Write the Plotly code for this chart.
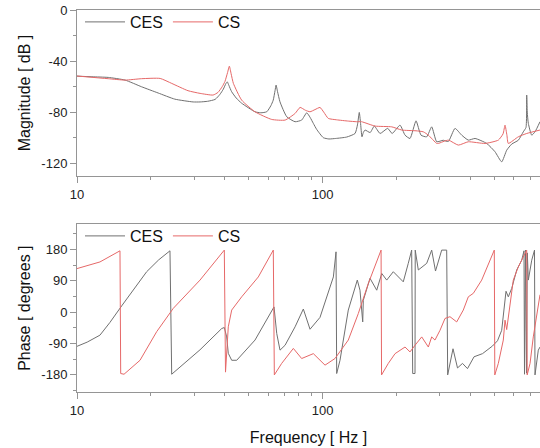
import plotly.graph_objects as go

# ---------------- data ----------------
ces_mag_f = [10.0, 11.5, 13.4, 15.7, 18.3, 21.4, 25.0, 29.7, 31.7, 34.0, 36.5, 38.2, 39.4, 40.4, 40.9,
             41.5, 42.6, 44.5, 46.8, 53.0, 56.0, 59.2, 61.5, 62.9, 64.0, 64.6, 65.5, 67.0, 71.4, 77.2,
             82.1, 86.1, 88.8, 91.6, 94.5, 100.6, 106.0, 113.0, 125.2, 135.4, 138.5, 140.9, 142.5,
             144.5, 146.3, 148.7, 156.0, 162.2, 171.2, 183.9, 191.7, 206.4, 216.3, 226.6, 239.8,
             251.2, 265.0, 277.7, 291.1, 309.6, 324.5, 345.5, 367.9, 391.4, 416.8, 465.0, 502.6,
             535.2, 560.9, 587.8, 625.3, 655.3, 672.0, 676.5, 680.0, 686.9, 709.1, 731.3, 766.3]
ces_mag_db = [-51.8, -52.3, -52.8, -54.9, -60.1, -65.0, -69.8, -72.0, -72.0, -71.5, -70.0, -66.0, -62.0, -57.5, -56.3,
              -59.0, -64.0, -69.0, -73.0, -79.7, -80.5, -79.7, -75.0, -70.6, -63.0, -58.8, -64.0, -71.9, -83.6, -87.5,
              -86.2, -80.5, -84.0, -88.8, -93.5, -100.0, -101.0, -100.6, -99.5, -96.7, -90.0, -80.2, -88.0,
              -99.3, -96.0, -94.0, -96.0, -90.9, -96.7, -92.7, -96.7, -90.2, -98.0, -100.6, -86.8,
              -98.0, -99.3, -91.5, -103.2, -102.0, -103.0, -92.7, -98.0, -101.9, -100.6, -104.5, -111.0,
              -118.9, -109.8, -105.0, -102.0, -95.4, -92.0, -66.6, -80.0, -88.8, -98.0, -95.4, -87.5]

cs_mag_f = [10.0, 13.4, 15.7, 18.3, 21.8, 24.3, 28.3, 31.7, 35.8, 37.5, 39.0, 40.0, 41.0, 41.7, 42.4,
            43.3, 46.8, 53.0, 62.0, 70.3, 77.2, 80.9, 85.0, 88.8, 93.0, 97.5, 101.0, 105.4, 114.0,
            127.1, 137.5, 144.0, 163.3, 190.9, 209.7, 239.8, 256.7, 269.1, 291.1, 295.5, 324.5,
            356.4, 391.4, 457.6, 518.5, 542.0, 552.1, 562.0, 569.4, 625.3, 676.5, 766.3]
cs_mag_db = [-51.7, -53.8, -54.9, -53.8, -53.6, -57.5, -63.2, -65.3, -66.6, -64.5, -60.0, -56.0, -49.0, -44.0, -50.0,
             -57.5, -70.6, -79.7, -85.7, -86.2, -81.0, -76.3, -78.5, -79.7, -78.0, -76.3, -80.0, -84.9, -86.0,
             -87.0, -87.5, -87.5, -90.9, -91.5, -94.0, -94.6, -95.4, -98.0, -104.5, -104.5, -101.9,
             -105.8, -103.2, -104.5, -101.9, -97.0, -90.2, -98.0, -104.5, -99.3, -96.7, -94.0]

ces_ph_f = [10.0, 11.0, 12.40, 13.6, 15.20, 16.9, 19.21, 21.5, 23.90, 24.29, 31.67, 38.81, 39.77, 40.67, 41.28,
            42.62, 44.67, 53.03, 63.37, 65.0, 67.02, 70.27, 77.20, 83.4, 88.8, 97.5, 110.5, 113.3,
            114.0, 117.6, 127.1, 138.3, 141.8, 145.5, 146.3, 155.8, 165.9, 173.9, 182.2, 193.8,
            212.8, 223.0, 230.2, 232.4, 237.5, 238.0, 245.0, 265.0, 277.7, 287.8, 305.0, 319.6,
            322.6, 339.1, 353.7, 370.7, 388.4, 412.9, 447.1, 491.1, 514.6, 535.2, 547.0, 557.2,
            569.4, 587.8, 616.1, 645.6, 659.6, 662.7, 669.0, 675.3, 680.3, 686.9, 709.1, 719.6,
            727.8, 731.3, 754.2, 766.3]
ces_ph_deg = [-98, -86, -66, -30, 18, 62, 116, 150, 176, -178, -108, -47, -44, -71, -118,
              -138, -138, -80, 15, -61, -109, -95, -42, 9, -49, -15, 101, 173,
              -176, -138, 6, 92, 63, -28, 34, 97, 63, 111, 92, 116,
              87, 140, 178, -176, -176, 178, 121, 140, 178, 118, 178, 178,
              -180, -105, -160, -147, -162, -128, -119, -97, -82, -52, 20, 60,
              44, 68, 121, 149, 176, -178, 178, -175, 170, 92, 149, 168,
              178, -180, -109, -100]

cs_ph_f = [10.0, 12.40, 14.96, 15.06, 15.54, 18.05, 21.10, 24.66, 31.67, 39.66, 39.77, 40.22, 40.60,
           41.28, 42.62, 46.81, 54.69, 62.94, 63.55, 68.08, 75.95, 82.1, 91.6, 102.2, 112.2, 127.1,
           139.6, 153.3, 172.8, 173.6, 184.9, 197.0, 216.3, 226.6, 237.5, 252.9, 269.1, 277.7,
           286.4, 300.2, 314.6, 329.6, 351.1, 373.4, 391.4, 410.2, 443.7, 472.1, 499.3, 501.7,
           518.5, 543.3, 552.1, 560.9, 578.5, 596.7, 625.3, 655.3, 676.5, 679.7, 698.0, 719.6,
           741.6, 766.3]
cs_ph_deg = [125, 144, 176, -176, -178, -138, -56, 11, 92, 176, 178, -172, -120,
             -42, 6, 44, 101, 178, -180, -147, -104, -133, -119, -152, -133, -80,
             -4, 82, 178, -180, -147, -119, -100, -114, -95, -71, -100, -71,
             -80, -52, -18, -13, -28, 6, 44, 54, 92, 140, 178, -180,
             -147, -80, -23, -50, 15, 92, 130, 159, 178, -180, -147, -71,
             -10, 50]

mag_ticks = [-120, -80, -40, 0]
mag_ticktext = ["-120", "-80", "-40", "0"]
mag_minor = [-100, -60, -20]
ph_ticks = [-180, -90, 0, 90, 180]
ph_ticktext = ["-180", "-90", "0", "90", "180"]
ph_minor = [-225, -135, -45, 45, 135, 225]
f_ticks = [10, 100]
f_ticktext = ["10", "100"]
f_minor = [20, 30, 40, 50, 60, 70, 80, 90, 200, 300, 400, 500, 600, 700]

# ---------------- styles ----------------
CES_COLOR = "#707070"
CS_COLOR = "#e66868"
AXIS_COLOR = "#959595"
FONT = "Arial, Liberation Sans, sans-serif"

fig = go.Figure()
fig.add_trace(go.Scatter(x=ces_mag_f, y=ces_mag_db, mode="lines", name="CES",
                         line=dict(color=CES_COLOR, width=1, shape="spline", smoothing=0.5),
                         xaxis="x", yaxis="y", legend="legend"))
fig.add_trace(go.Scatter(x=cs_mag_f, y=cs_mag_db, mode="lines", name="CS",
                         line=dict(color=CS_COLOR, width=1, shape="spline", smoothing=0.5),
                         xaxis="x", yaxis="y", legend="legend"))
fig.add_trace(go.Scatter(x=ces_ph_f, y=ces_ph_deg, mode="lines", name="CES",
                         line=dict(color=CES_COLOR, width=1),
                         xaxis="x2", yaxis="y2", legend="legend2"))
fig.add_trace(go.Scatter(x=cs_ph_f, y=cs_ph_deg, mode="lines", name="CS",
                         line=dict(color=CS_COLOR, width=1),
                         xaxis="x2", yaxis="y2", legend="legend2"))

W, H = 540, 448
L, T, B = 77, 10, 56
area_h = H - T - B           # 382
top_dom = [(H - B - 176) / area_h, 1.0]
bot_dom = [0.0, (H - B - 224.3) / area_h]

common_x = dict(type="log", range=[1.0, 2.8844], showline=True, linecolor=AXIS_COLOR, linewidth=1,
                mirror=True, ticks="outside", ticklen=6, tickcolor=AXIS_COLOR, showgrid=False,
                zeroline=False, tickvals=f_ticks, ticktext=f_ticktext, automargin=False,
                tickfont=dict(family=FONT, size=13, color="#222"),
                minor=dict(tickvals=f_minor, ticks="outside", ticklen=3, tickcolor=AXIS_COLOR))
common_y = dict(showline=True, linecolor=AXIS_COLOR, linewidth=1, ticks="outside", ticklen=6,
                tickcolor=AXIS_COLOR, showgrid=False, zeroline=False, automargin=False,
                tickfont=dict(family=FONT, size=13, color="#222"))

fig.update_layout(
    width=W, height=H,
    margin=dict(l=L, r=0, t=T, b=B),
    paper_bgcolor="white", plot_bgcolor="white",
    font=dict(family=FONT, color="#111"),
    xaxis=dict(domain=[0, 1], anchor="y", **common_x),
    yaxis=dict(domain=top_dom, anchor="x", range=[-130, 0], tickvals=mag_ticks, ticktext=mag_ticktext,
               minor=dict(tickvals=mag_minor, ticks="outside", ticklen=3, tickcolor=AXIS_COLOR),
               title=dict(text="Magnitude [ dB ]", font=dict(family=FONT, size=16, color="#111"), standoff=6),
               **common_y),
    xaxis2=dict(domain=[0, 1], anchor="y2",
                title=dict(text="Frequency [ Hz ]", font=dict(family=FONT, size=16, color="#111"), standoff=15),
                **common_x),
    yaxis2=dict(domain=bot_dom, anchor="x2", range=[-229, 252], tickvals=ph_ticks, ticktext=ph_ticktext,
                minor=dict(tickvals=ph_minor, ticks="outside", ticklen=3, tickcolor=AXIS_COLOR),
                title=dict(text="Phase [ degrees ]", font=dict(family=FONT, size=16, color="#111"), standoff=6),
                **common_y),
    legend=dict(orientation="h", x=0.0065, xanchor="left", y=(H - B - 22) / area_h, yanchor="middle",
                bgcolor="rgba(0,0,0,0)", font=dict(family=FONT, size=16, color="#111"),
                itemwidth=40, tracegroupgap=0),
    legend2=dict(orientation="h", x=0.0065, xanchor="left", y=(H - B - 236) / area_h, yanchor="middle",
                 bgcolor="rgba(0,0,0,0)", font=dict(family=FONT, size=16, color="#111"),
                 itemwidth=40, tracegroupgap=0),
    showlegend=True,
)

fig.write_html("out.html", config={"displayModeBar": False},
               post_script="document.body.style.margin='0px';")
